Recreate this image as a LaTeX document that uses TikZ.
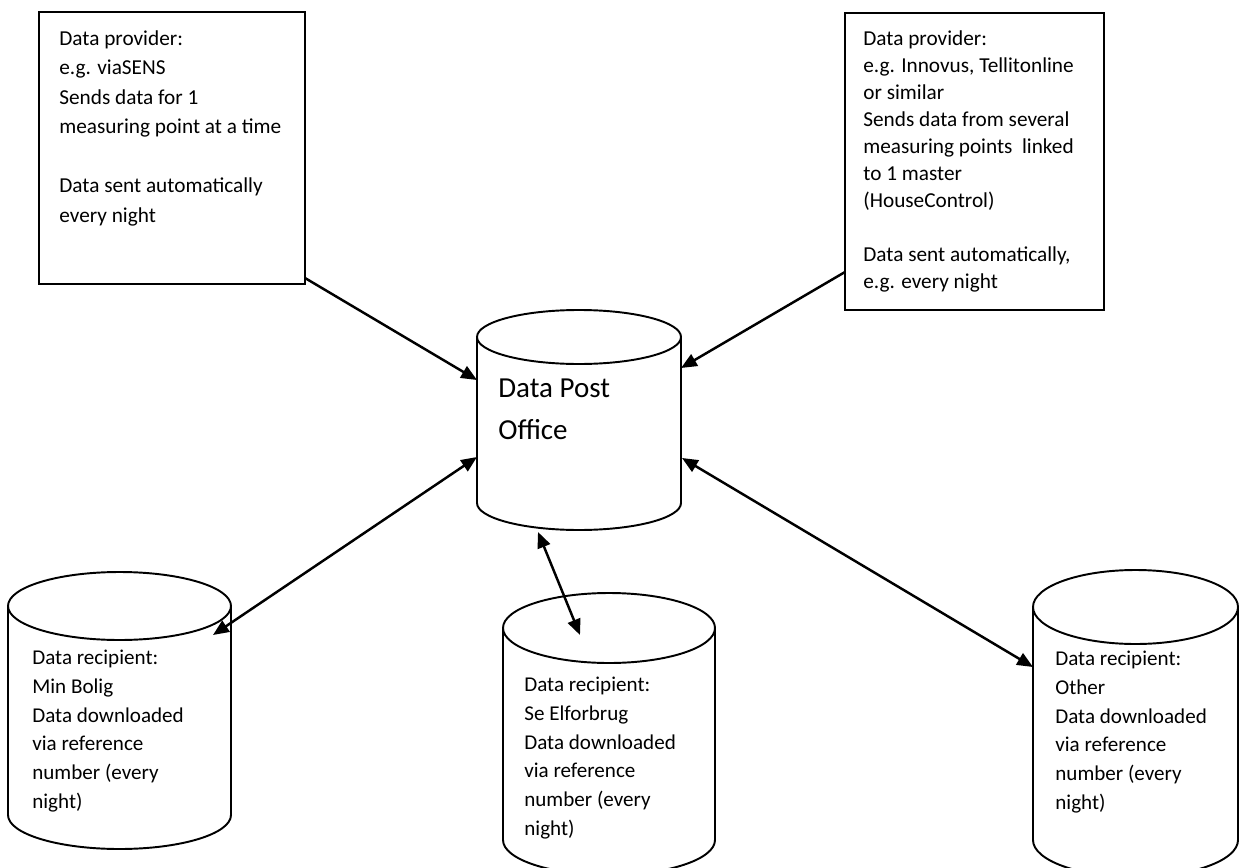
\documentclass[tikz,border=0pt]{standalone}
\usepackage{fontspec}
\setmainfont{Carlito}
\usetikzlibrary{arrows.meta}

% vertical drum: centre x, x radius, top cap y, bottom cap y, y radius
\newcommand{\drum}[5]{%
	\draw[frame] (#1,#3) ellipse [x radius=#2, y radius=#5];
	\draw[frame] (#1-#2,#3) -- (#1-#2,#4) arc[start angle=180, end angle=0, x radius=#2, y radius=#5] -- (#1+#2,#3);
}

\begin{document}
\begin{tikzpicture}[x=0.02cm,y=-0.02cm,
	frame/.style={line width=1.1pt},
	conn/.style={line width=1.4pt},
	tip/.tip={Triangle[length=9pt,width=7.5pt]},
	txt/.style={anchor=north west,inner sep=0pt,align=left,font=\fontsize{12.1}{16.8}\selectfont}]
	\useasboundingbox (0,0) rectangle (1240,868);
	\clip (0,0) rectangle (1240,868);

	% data providers
	\draw[frame] (39,12) rectangle (305,284);
	\node[txt] (prov1) at (59,30) {Data provider:\\e.g. viaSENS\\Sends data for 1\\measuring point at a time\\[16.8pt]Data sent automatically\\every night};
	\draw[frame] (845,13) rectangle (1104,310);
	\node[txt,font=\fontsize{12.1}{15.4}\selectfont] (prov2) at (863,30) {Data provider:\\e.g. Innovus, Tellitonline\\or similar\\Sends data from several\\measuring points~ linked\\to 1 master\\(HouseControl)\\[15.4pt]Data sent automatically,\\e.g. every night};

	% post office
	\drum{579}{102}{337}{503}{27}
	\node[txt,font=\fontsize{16.5}{23.8}\selectfont] (post) at (498,379) {Data Post\\Office};

	% data recipients
	\drum{119.5}{111.5}{606}{815}{34}
	\node[txt,font=\fontsize{12}{16.3}\selectfont] (rec1) at (32,650) {Data recipient:\\Min Bolig\\Data downloaded\\via reference\\number (every\\night)};
	\drum{609}{106}{628}{840}{35}
	\node[txt,font=\fontsize{12}{16.3}\selectfont] (rec2) at (524,677) {Data recipient:\\Se Elforbrug\\Data downloaded\\via reference\\number (every\\night)};
	\drum{1135.5}{102.5}{607}{840}{37}
	\node[txt,font=\fontsize{12}{16.3}\selectfont] (rec3) at (1055,651) {Data recipient:\\Other\\Data downloaded\\via reference\\number (every\\night)};

	% arrow ends
	\coordinate (p1out) at (305,278);
	\coordinate (p2out) at (845,272);
	\coordinate (postw1) at (477,380);
	\coordinate (poste1) at (681,368);
	\coordinate (postw2) at (477,457);
	\coordinate (poste2) at (682,458);
	\coordinate (postb) at (538,532);
	\coordinate (r1in) at (213,635);
	\coordinate (r2in) at (580,635);
	\coordinate (r3in) at (1033,667);

	\draw[conn,-tip] (p1out) -- (postw1);
	\draw[conn,-tip] (p2out) -- (poste1);
	\draw[conn,tip-tip] (postw2) -- (r1in);
	\draw[conn,tip-tip] (postb) -- (r2in);
	\draw[conn,tip-tip] (poste2) -- (r3in);
\end{tikzpicture}
\end{document}
